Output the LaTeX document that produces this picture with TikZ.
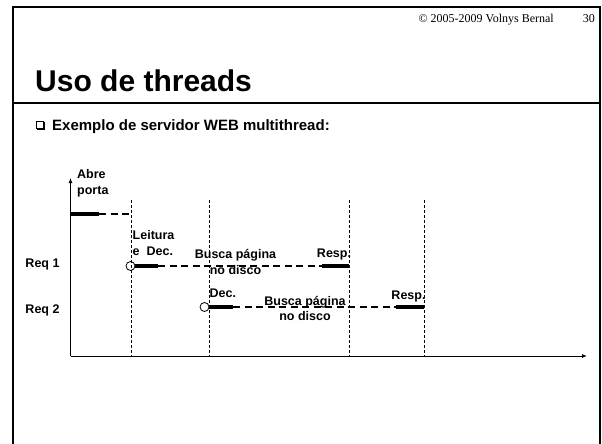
\documentclass[tikz,border=0pt]{standalone}
\usepackage{fontspec}
\setmainfont{Liberation Sans}
\newfontfamily\serifrm{Liberation Serif}
\usetikzlibrary{arrows.meta}
\begin{document}
\begin{tikzpicture}[x=1pt,y=-1pt,
  frameline/.style={line width=2.5pt, line join=miter},
  lbl/.style={inner sep=0pt, font=\fontsize{12.5}{15.5}\selectfont\bfseries},
  busy/.style={line width=3.5pt},
  wait/.style={line width=1.5pt, dash pattern=on 7pt off 4.5pt},
  gridline/.style={line width=0.8pt, dash pattern=on 3pt off 2pt},
  axis/.style={line width=0.9pt, -{Latex[length=5pt,width=4pt]}},
  start/.style={circle, draw, line width=0.8pt, minimum size=9pt, inner sep=0pt}
]
\useasboundingbox (0,0) rectangle (602,444);
% frame
\coordinate (fbl) at (13,444);
\coordinate (ftl) at (13,7);
\coordinate (ftr) at (600,7);
\coordinate (fbr) at (600,444);
\draw[frameline] (fbl) -- (ftl) -- (ftr) -- (fbr);
\coordinate (hl) at (13,103);
\coordinate (hr) at (600,103);
\draw[frameline] (hl) -- (hr);
% header texts
\node[anchor=base east, inner sep=0pt, font=\serifrm\fontsize{12}{14}\selectfont] (copy) at (554,22.5) {© 2005-2009 Volnys Bernal};
\node[anchor=base east, inner sep=0pt, font=\serifrm\fontsize{12}{14}\selectfont] (pg) at (595,22.5) {30};
\node[anchor=base west, inner sep=0pt, font=\fontsize{30}{36}\selectfont\bfseries] (title) at (35,92) {Uso de threads};
% bullet
\node[draw, line width=0.7pt, minimum size=7pt, inner sep=0pt] (bul) at (40,125) {};
\draw[line width=0.9pt] ([xshift=0.8pt,yshift=-0.8pt]bul.south west) -- ([xshift=0.8pt,yshift=-0.8pt]bul.south east) -- ([xshift=0.8pt,yshift=-0.8pt]bul.north east);
\node[anchor=base west, inner sep=0pt, font=\fontsize{15}{18}\selectfont\bfseries] (sub) at (52,130.4) {Exemplo de servidor WEB multithread:};
% axes
\coordinate (o) at (70.5,356);
\coordinate (ytop) at (70.5,178);
\coordinate (xend) at (587,356);
\draw[axis] (o) -- (ytop);
\draw[axis] (o) -- (xend);
% vertical dotted lines
\foreach \i/\xx in {1/131,2/209,3/349,4/424}{
  \coordinate (vt\i) at (\xx,200);
  \coordinate (vb\i) at (\xx,356);
  \draw[gridline] (vt\i) -- (vb\i);
}
% Abre porta row
\coordinate (a0) at (70.5,214);
\coordinate (a1) at (99,214);
\coordinate (a2) at (131,214);
\draw[busy] (a0) -- (a1);
\draw[wait] (a1) -- (a2);
\node[lbl, anchor=west, align=left] (abre) at (77,183.5) {Abre\\porta};
% Req 1
\node[start] (c1) at (130.5,266) {};
\coordinate (r1a) at (158,266);
\coordinate (r1b) at (322,266);
\coordinate (r1c) at (349,266);
\draw[busy] (c1.east) -- (r1a);
\draw[wait] (r1a) -- (r1b);
\draw[busy] (r1b) -- (r1c);
% Req 2
\node[start] (c2) at (204.5,307) {};
\coordinate (r2a) at (233,307);
\coordinate (r2b) at (396,307);
\coordinate (r2c) at (424,307);
\draw[busy] (c2.east) -- (r2a);
\draw[wait] (r2a) -- (r2b);
\draw[busy] (r2b) -- (r2c);
% labels
\node[lbl] (req1) at (42.5,264) {Req 1};
\node[lbl] (req2) at (42.5,310) {Req 2};
\node[lbl, anchor=west, align=left] (leit) at (132.5,243) {Leitura\\e\ \ Dec.};
\node[lbl, align=center] (bus1) at (235.5,262) {Busca página\\no disco};
\node[lbl] (resp1) at (334,254) {Resp.};
\node[lbl, anchor=west] (dec2) at (209.5,293) {Dec.};
\node[lbl, align=center] (bus2) at (305,308.5) {Busca página\\no disco};
\node[lbl] (resp2) at (408.5,296) {Resp.};
\end{tikzpicture}
\end{document}
